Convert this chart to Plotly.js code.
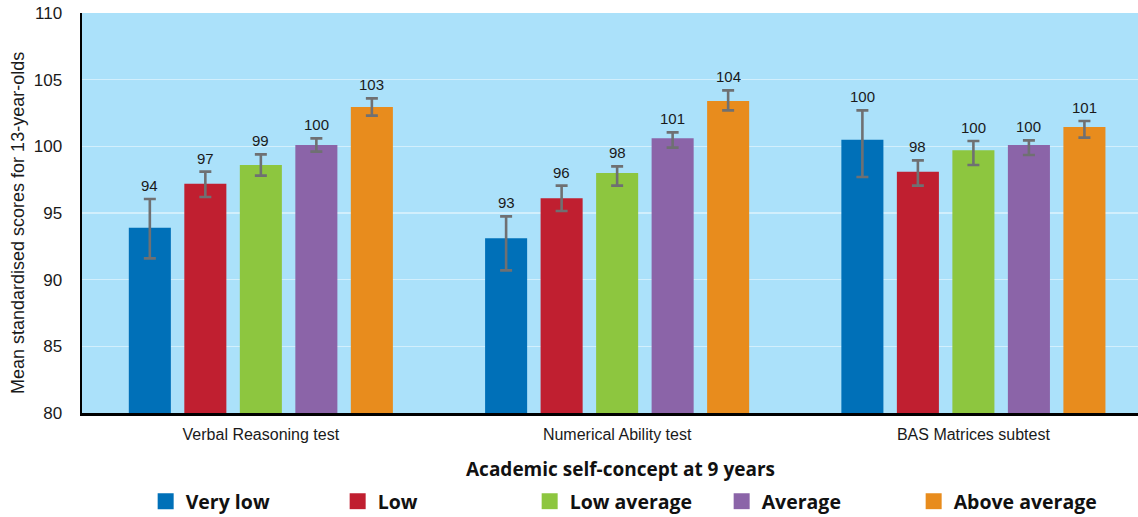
<!DOCTYPE html>
<html>
<head>
<meta charset="utf-8">
<script src="https://cdn.plot.ly/plotly-3.0.1.min.js"></script>
<style>html,body{margin:0;padding:0;background:#fff;}#chart{width:1138px;height:517px;}</style>
</head>
<body>
<div id="chart"></div>
<script>
// ---- Data ----
var categories = ['Verbal Reasoning test', 'Numerical Ability test', 'BAS Matrices subtest'];
var levels = ['Very low', 'Low', 'Low average', 'Average', 'Above average'];

var veryLowMean  = [93.9, 93.1, 100.5];
var veryLowUpper = [96.05, 94.75, 102.7];
var veryLowLower = [91.6, 90.7, 97.7];
var veryLowLabel = ['94', '93', '100'];

var lowMean  = [97.2, 96.1, 98.1];
var lowUpper = [98.1, 97.05, 98.95];
var lowLower = [96.2, 95.15, 97.05];
var lowLabel = ['97', '96', '98'];

var lowAvgMean  = [98.6, 98.0, 99.7];
var lowAvgUpper = [99.4, 98.5, 100.4];
var lowAvgLower = [97.8, 97.05, 98.6];
var lowAvgLabel = ['99', '98', '100'];

var avgMean  = [100.1, 100.6, 100.1];
var avgUpper = [100.6, 101.05, 100.45];
var avgLower = [99.6, 99.9, 99.35];
var avgLabel = ['100', '101', '100'];

var aboveMean  = [102.95, 103.4, 101.45];
var aboveUpper = [103.6, 104.2, 101.9];
var aboveLower = [102.3, 102.7, 100.65];
var aboveLabel = ['103', '104', '101'];

var yTicks = [80, 85, 90, 95, 100, 105, 110];
var xTitle = 'Academic self-concept at 9 years';
var yTitle = 'Mean standardised scores for 13-year-olds';

// ---- Build ----
var series = [
  {name: levels[0], mean: veryLowMean, up: veryLowUpper, lo: veryLowLower, lab: veryLowLabel, color: '#0070b8'},
  {name: levels[1], mean: lowMean, up: lowUpper, lo: lowLower, lab: lowLabel, color: '#c01f30'},
  {name: levels[2], mean: lowAvgMean, up: lowAvgUpper, lo: lowAvgLower, lab: lowAvgLabel, color: '#8dc63f'},
  {name: levels[3], mean: avgMean, up: avgUpper, lo: avgLower, lab: avgLabel, color: '#8b64a8'},
  {name: levels[4], mean: aboveMean, up: aboveUpper, lo: aboveLower, lab: aboveLabel, color: '#e88c1d'}
];

var step = 0.1558, barW = 0.118;
var traces = [];
var annotations = [];
series.forEach(function (s, si) {
  var xs = categories.map(function (c, ci) { return ci + (si - 2) * step; });
  traces.push({
    type: 'bar', x: xs, y: s.mean, width: barW, name: s.name, showlegend: false,
    marker: {color: s.color, line: {width: 0}},
    error_y: {
      type: 'data', symmetric: false,
      array: s.mean.map(function (m, i) { return s.up[i] - m; }),
      arrayminus: s.mean.map(function (m, i) { return m - s.lo[i]; }),
      color: '#6f7072', thickness: 2.6, width: 6
    }
  });
  xs.forEach(function (x, i) {
    annotations.push({
      xref: 'x', yref: 'y', x: x, y: s.up[i], text: s.lab[i], showarrow: false,
      xanchor: 'center', yanchor: 'bottom', yshift: 3,
      font: {family: 'Liberation Sans, Arial, sans-serif', size: 15, color: '#1a1a1a'}
    });
  });
});
annotations.push({
  xref: 'paper', yref: 'paper', x: 0.5095, y: -0.14, xanchor: 'center', yanchor: 'middle',
  text: xTitle, showarrow: false,
  font: {family: 'Open Sans, sans-serif', size: 19, color: '#111', weight: 'bold'}
});
annotations.push({
  xref: 'paper', yref: 'paper', x: -0.0606, y: 0.475, xanchor: 'center', yanchor: 'middle',
  text: yTitle, showarrow: false, textangle: -90,
  font: {family: 'Liberation Sans, Arial, sans-serif', size: 18, color: '#1a1a1a'}
});
series.forEach(function (s) {
  traces.push({
    type: 'scatter', mode: 'markers', x: [null], y: [null], name: s.name,
    marker: {symbol: 'square', size: 20, color: s.color}
  });
});

var layout = {
  width: 1138, height: 517,
  margin: {l: 82, r: 0, t: 13, b: 104},
  paper_bgcolor: '#ffffff',
  plot_bgcolor: '#abe1fa',
  showlegend: true,
  legend: {
    orientation: 'h', xref: 'container', yref: 'container', x: 0.128, xanchor: 'left',
    y: 0.03, yanchor: 'middle', entrywidth: 147, itemsizing: 'trace',
    font: {family: 'Open Sans, sans-serif', size: 19.5, color: '#111', weight: 'bold'},
    bgcolor: 'rgba(0,0,0,0)'
  },
  annotations: annotations,
  xaxis: {
    range: [-0.502, 2.462], tickvals: [0, 1, 2], ticktext: categories,
    showgrid: false, zeroline: false, showline: true, linecolor: '#000', linewidth: 2.5,
    ticks: '', ticklabelstandoff: 5,
    tickfont: {family: 'Liberation Sans, Arial, sans-serif', size: 16, color: '#1a1a1a'},
    fixedrange: true
  },
  yaxis: {
    range: [80, 110], tickvals: yTicks, ticktext: yTicks.map(String),
    showgrid: true, gridcolor: '#d2effc', gridwidth: 1.5, zeroline: false,
    showline: true, linecolor: '#000', linewidth: 2.5,
    ticks: 'outside', ticklen: 14, tickcolor: 'rgba(0,0,0,0)',
    tickfont: {family: 'Liberation Sans, Arial, sans-serif', size: 17, color: '#1a1a1a'},
    fixedrange: true
  },
  hovermode: false
};

Plotly.newPlot('chart', traces, layout, {displayModeBar: false, staticPlot: true});
</script>
</body>
</html>
